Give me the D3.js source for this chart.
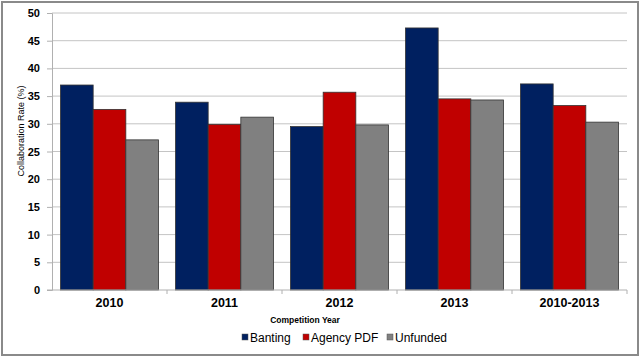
<!DOCTYPE html>
<html>
<head>
<meta charset="utf-8">
<script src="https://cdn.jsdelivr.net/npm/d3@7"></script>
<style>
  body { margin: 0; background: #fff; }
  svg { display: block; font-family: "Liberation Sans", Arial, sans-serif; }
</style>
</head>
<body>
<script>
const years = ["2010", "2011", "2012", "2013", "2010-2013"];
const seriesNames = ["Banting", "Agency PDF", "Unfunded"];
const banting = [37.0, 33.9, 29.5, 47.3, 37.2];
const agencyPdf = [32.6, 29.9, 35.7, 34.5, 33.3];
const unfunded = [27.1, 31.2, 29.8, 34.3, 30.3];
const yTicks = [0, 5, 10, 15, 20, 25, 30, 35, 40, 45, 50];
const colors = ["#002060", "#c00000", "#808080"];

const width = 644, height = 358;
const margin = {left: 52, right: 17, top: 13, bottom: 68};

const svg = d3.select("body").append("svg")
  .attr("width", width)
  .attr("height", height);

// outer frame
svg.append("rect")
  .attr("x", 2).attr("y", 2)
  .attr("width", 636).attr("height", 353)
  .attr("fill", "#fff")
  .attr("stroke", "#8a8a8a")
  .attr("stroke-width", 2);

const x0 = d3.scaleBand()
  .domain(years)
  .range([margin.left, width - margin.right]);

const x1 = d3.scaleBand()
  .domain(seriesNames)
  .range([0, x0.bandwidth()])
  .paddingOuter(0.26);

const y = d3.scaleLinear()
  .domain([0, 50])
  .range([height - margin.bottom, margin.top]);

// gridlines
svg.append("g")
  .selectAll("line")
  .data(yTicks.filter(d => d > 0))
  .join("line")
  .attr("x1", margin.left)
  .attr("x2", width - margin.right)
  .attr("y1", d => y(d))
  .attr("y2", d => y(d))
  .attr("stroke", "#c4c4c4");

// y axis
const yAxis = svg.append("g")
  .attr("transform", `translate(${margin.left},0)`)
  .call(d3.axisLeft(y).tickValues(yTicks).tickSize(5).tickPadding(7));
yAxis.select(".domain").attr("stroke", "#b0b0b0");
yAxis.selectAll(".tick line").attr("stroke", "#b0b0b0");
yAxis.selectAll(".tick text")
  .attr("font-size", 11)
  .attr("font-weight", "bold")
  .attr("font-family", "Liberation Sans, Arial, sans-serif")
  .attr("fill", "#000");

// bars
const rows = years.map((yr, i) => ({
  year: yr,
  values: [banting[i], agencyPdf[i], unfunded[i]]
}));

svg.append("g")
  .selectAll("g")
  .data(rows)
  .join("g")
  .attr("transform", d => `translate(${x0(d.year)},0)`)
  .selectAll("rect")
  .data(d => d.values.map((v, j) => ({name: seriesNames[j], value: v, j: j})))
  .join("rect")
  .attr("x", d => x1(d.name))
  .attr("y", d => y(d.value))
  .attr("width", x1.bandwidth())
  .attr("height", d => y(0) - y(d.value))
  .attr("fill", d => colors[d.j])
  .attr("stroke", "#333")
  .attr("stroke-width", 0.8);

// x axis
const xAxisY = y(0);
svg.append("line")
  .attr("x1", margin.left - 5).attr("x2", width - margin.right)
  .attr("y1", xAxisY).attr("y2", xAxisY)
  .attr("stroke", "#b0b0b0");

svg.append("g")
  .selectAll("line")
  .data(years.slice(1).concat(["end"]))
  .join("line")
  .attr("x1", (d, i) => x0(years[i]) + x0.bandwidth())
  .attr("x2", (d, i) => x0(years[i]) + x0.bandwidth())
  .attr("y1", xAxisY)
  .attr("y2", xAxisY + 4)
  .attr("stroke", "#b0b0b0");

svg.append("g")
  .selectAll("text")
  .data(years)
  .join("text")
  .attr("x", d => x0(d) + x0.bandwidth() / 2)
  .attr("y", xAxisY + 17)
  .attr("text-anchor", "middle")
  .attr("font-size", 12.5)
  .attr("font-weight", "bold")
  .text(d => d);

// axis titles
svg.append("text")
  .attr("x", 305)
  .attr("y", 322.5)
  .attr("text-anchor", "middle")
  .attr("font-size", 8.5)
  .attr("font-weight", "bold")
  .text("Competition Year");

svg.append("text")
  .attr("transform", "translate(24,131) rotate(-90)")
  .attr("text-anchor", "middle")
  .attr("font-size", 9)
  .text("Collaboration Rate (%)");

// legend
const legendX = [242, 303, 387];
const legend = svg.append("g")
  .selectAll("g")
  .data(seriesNames)
  .join("g")
  .attr("transform", (d, i) => `translate(${legendX[i]},${337})`);
legend.append("rect")
  .attr("x", 0).attr("y", -3)
  .attr("width", 6).attr("height", 6)
  .attr("fill", (d, i) => colors[i])
  .attr("stroke", "#555")
  .attr("stroke-width", 0.5);
legend.append("text")
  .attr("x", 8)
  .attr("y", 4.5)
  .attr("font-size", 12)
  .text(d => d);
</script>
</body>
</html>
